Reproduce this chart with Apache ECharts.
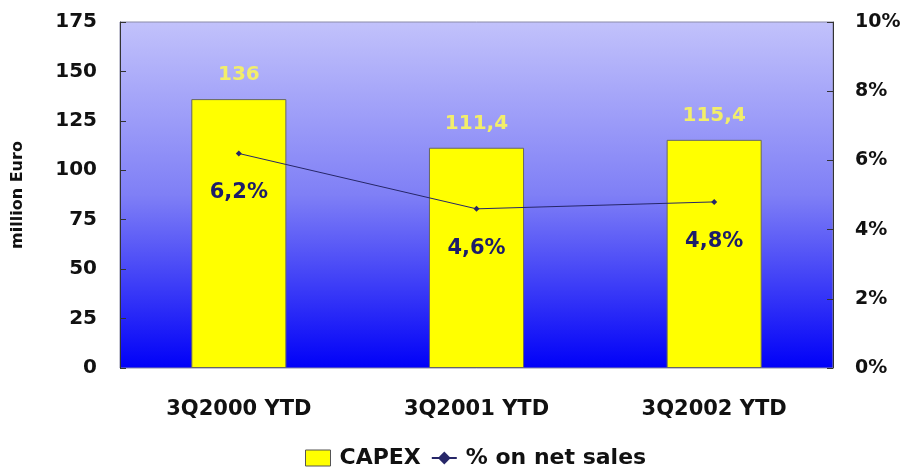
<!DOCTYPE html>
<html><head><meta charset="utf-8">
<script src="https://cdn.jsdelivr.net/npm/echarts@6/dist/echarts.min.js"></script>
<style>html,body{margin:0;padding:0;background:#fff}#c{width:906px;height:474px}</style>
</head><body><div id="c"></div>
<script>
var categories = ['3Q2000 YTD', '3Q2001 YTD', '3Q2002 YTD'];
var capex = [136, 111.4, 115.4];
var pctNetSales = [6.2, 4.6, 4.8];
var leftTicks = [0, 25, 50, 75, 100, 125, 150, 175];
var rightTicks = [0, 2, 4, 6, 8, 10];

var fmtComma = function (v) { return String(v).replace('.', ','); };
var font = 'DejaVu Sans, Arial, sans-serif';
var chart = echarts.init(document.getElementById('c'));
chart.setOption({
  animation: false,
  grid: {
    left: 120, right: 73, top: 22, bottom: 106, show: true,
    borderColor: '#8a8aa8', borderWidth: 1,
    backgroundColor: new echarts.graphic.LinearGradient(0, 0, 0, 1, [
      { offset: 0, color: '#c2c2fb' },
      { offset: 0.5, color: '#7f7ff6' },
      { offset: 1, color: '#0000f8' }
    ])
  },
  legend: {
    bottom: 0, left: 300, itemGap: 10, itemWidth: 25, itemHeight: 16,
    textStyle: { fontFamily: font, fontWeight: 'bold', fontSize: 22, color: '#111', padding: [0, 0, 0, 4] },
    data: [
      { name: 'CAPEX', icon: 'rect', itemStyle: { color: '#ffff00', borderColor: '#555', borderWidth: 1 } },
      { name: '% on net sales' }
    ]
  },
  xAxis: {
    type: 'category', data: categories,
    axisLine: { show: false }, axisTick: { show: false },
    axisLabel: { margin: 31, fontFamily: font, fontWeight: 'bold', fontSize: 21, color: '#111' }
  },
  yAxis: [{
    type: 'value', min: 0, max: 175, interval: 25,
    name: 'million Euro', nameLocation: 'middle', nameGap: 94, nameRotate: 90,
    nameTextStyle: { fontFamily: font, fontSize: 16, fontWeight: 'bold', color: '#111' },
    axisLine: { show: true, lineStyle: { color: '#333' } },
    axisTick: { show: true, inside: true, length: 6, lineStyle: { color: '#333' } },
    splitLine: { show: false },
    axisLabel: { margin: 23, fontFamily: font, fontWeight: 'bold', fontSize: 20, color: '#111' }
  }, {
    type: 'value', min: 0, max: 10, interval: 2, position: 'right',
    axisLine: { show: true, lineStyle: { color: '#333' } },
    axisTick: { show: true, inside: true, length: 6, lineStyle: { color: '#333' } },
    splitLine: { show: false },
    axisLabel: { margin: 22, align: 'left', fontFamily: font, fontWeight: 'bold', fontSize: 19, color: '#111', formatter: '{value}%' }
  }],
  series: [{
    name: 'CAPEX', type: 'bar', data: capex, barWidth: '40%',
    itemStyle: { color: '#ffff00', borderColor: '#666', borderWidth: 1 },
    label: { show: true, position: 'top', distance: 14, fontFamily: font, fontWeight: 'bold', fontSize: 20, color: '#f2ee6a',
      formatter: function (p) { return fmtComma(p.value); } }
  }, {
    name: '% on net sales', type: 'line', yAxisIndex: 1, data: pctNetSales,
    symbol: 'diamond', symbolSize: 6,
    lineStyle: { color: '#262668', width: 1 }, itemStyle: { color: '#262668' },
    label: { show: true, position: 'bottom', distance: 26, fontFamily: font, fontWeight: 'bold', fontSize: 21, color: '#1c1c6a',
      formatter: function (p) { return fmtComma(p.value) + '%'; } }
  }]
});
</script></body></html>
